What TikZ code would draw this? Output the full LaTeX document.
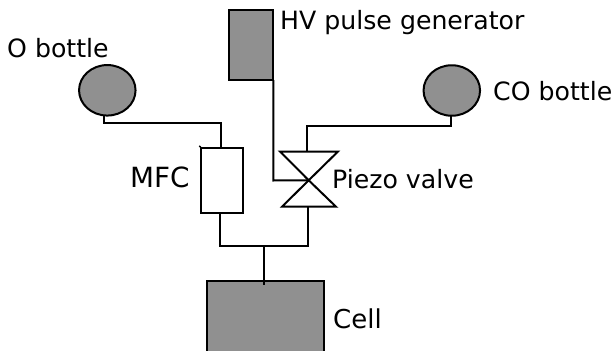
\documentclass[tikz,border=0pt]{standalone}
\usepackage{fontspec}
\usetikzlibrary{shapes.geometric}
\setmainfont{DejaVu Sans}
\definecolor{fillg}{HTML}{909090}
\tikzset{
 ln/.style={draw=black,line width=2pt},
 gfill/.style={ln,fill=fillg},
 lab/.style={inner sep=0pt,anchor=base west,font=\fontsize{25.2}{28}\selectfont},
 pipe/.style={ln,line join=miter}
}
\begin{document}
\begin{tikzpicture}[x=1pt,y=-1pt]
\useasboundingbox (0,0) rectangle (614,351);
\fill[white] (0,0) rectangle (614,351);
% gas bottles
\node[gfill,ellipse,inner sep=0pt,minimum width=56.5pt,minimum height=50.5pt] (obot) at (107.3,90.3) {};
\node[gfill,ellipse,inner sep=0pt,minimum width=56.5pt,minimum height=50.5pt] (cobot) at (451.8,90.5) {};
% boxes
\node[gfill,rectangle,inner sep=0pt,minimum width=44pt,minimum height=70pt] (hv) at (251,45) {};
\node[ln,rectangle,fill=white,inner sep=0pt,minimum width=42pt,minimum height=64.5pt] (mfc) at (221.5,180.3) {};
\begin{scope}
\clip (0,0) rectangle (614,351);
\node[gfill,rectangle,inner sep=0pt,minimum width=116.5pt,minimum height=90pt] (cell) at (265.3,325.7) {};
\end{scope}
% valve
\coordinate (vc) at (308.7,180.3);
\coordinate (vtl) at (280,151.5);
\coordinate (vtr) at (338,151.5);
\coordinate (vbl) at (282,206.7);
\coordinate (vbr) at (336,206.7);
\draw[pipe] (vc) -- (vtl) -- (vtr) -- cycle;
\draw[pipe] (vc) -- (vbl) -- (vbr) -- cycle;
% junction and connector corners
\coordinate (j1) at (104.3,123.3);
\coordinate (j2) at (221,123.3);
\coordinate (mfct) at (221,147.5);
\coordinate (obotb) at (104.3,115.5);
\coordinate (cobotb) at (450.7,115.5);
\coordinate (j3) at (450.7,126);
\coordinate (j4) at (307,126);
\coordinate (vtop) at (307,151.5);
\coordinate (hvb) at (273.3,80);
\coordinate (j5) at (273.3,180.5);
\coordinate (mfcb) at (220.3,212.5);
\coordinate (j6) at (220.3,246.3);
\coordinate (j7) at (308.3,246.3);
\coordinate (vbot) at (308.3,206.7);
\coordinate (j8) at (264.3,246.3);
\coordinate (stem) at (264.3,285);
\coordinate (tick) at (200.5,146);
\draw[pipe] (obotb) -- (j1) -- (j2) -- (mfct);
\draw[pipe] (cobotb) -- (j3) -- (j4) -- (vtop);
\draw[pipe] (hvb) -- (j5) -- (vc);
\draw[pipe] (mfcb) -- (j6) -- (j7) -- (vbot);
\draw[pipe] (j8) -- (stem);
\draw[pipe] (tick) -- (mfc.north west);
% labels
\node[lab] (l1) at (7,57) {O bottle};
\node[lab] (l2) at (280,29) {HV pulse generator};
\node[lab] (l3) at (493,100) {CO bottle};
\node[lab,font=\fontsize{27.8}{30}\selectfont] (l4) at (130,187) {MFC};
\node[lab] (l5) at (332,188) {Piezo valve};
\node[lab,font=\fontsize{26}{30}\selectfont] (l6) at (333,328) {Cell};
\end{tikzpicture}
\end{document}
